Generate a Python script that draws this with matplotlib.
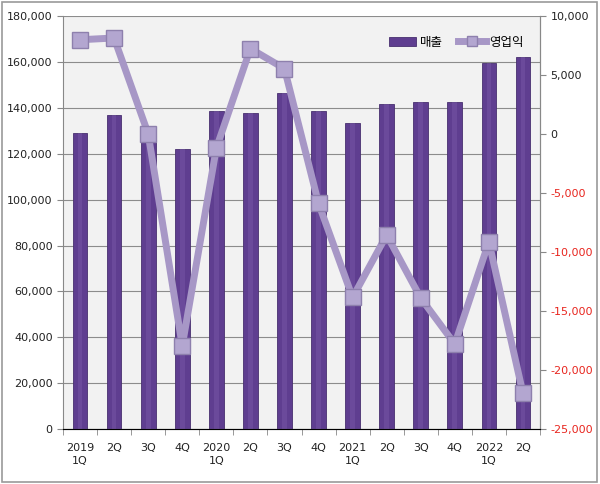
import matplotlib.pyplot as plt
from matplotlib.patches import Rectangle
from matplotlib.ticker import FuncFormatter, FixedLocator

plt.rcParams['font.family'] = ['DejaVu Sans', 'Noto Sans CJK KR']

quarters = ['2019\n1Q', '2Q', '3Q', '4Q', '2020\n1Q', '2Q', '3Q', '4Q',
            '2021\n1Q', '2Q', '3Q', '4Q', '2022\n1Q', '2Q']
sales = [129100, 136700, 129800, 121900, 138600, 137600, 146600,
         138600, 133400, 141700, 142400, 142400, 159600, 162000]
op_profit = [8000, 8150, 30, -17950, -1200, 7250, 5550,
             -5870, -13850, -8550, -13900, -17800, -9130, -21980]

fig = plt.figure(figsize=(6, 4.84), dpi=100)
fig.patches.append(Rectangle((0.004, 0.005), 0.991, 0.99, transform=fig.transFigure,
                             fill=False, edgecolor='#9a9a9a', linewidth=1.2))

ax = fig.add_axes([0.105, 0.1136, 0.795, 0.853])
ax.set_facecolor('#f2f2f2')
x = list(range(len(quarters)))

ax.bar(x, sales, width=0.43, color='#5f3e90', edgecolor='#48306f', linewidth=0.6,
       label='매출', zorder=2)
# highlight stripe to imitate the cylinder shading
ax.bar(x, sales, width=0.14, color='#7a5aa9', alpha=0.45, linewidth=0, zorder=2)

ax.set_xlim(-0.5, len(quarters) - 0.5)
ax.set_ylim(0, 180000)
ax.set_yticks(range(0, 180001, 20000))
ax.yaxis.set_major_formatter(FuncFormatter(lambda v, p: f'{int(v):,}'))
ax.grid(axis='y', color='#8c8c8c', linewidth=0.8, zorder=0)
ax.set_axisbelow(True)

ax.set_xticks(x)
ax.set_xticklabels(quarters, fontsize=8, color='#222222', linespacing=1.4)
ax.xaxis.set_minor_locator(FixedLocator([i + 0.5 for i in range(-1, len(quarters))]))
ax.tick_params(axis='x', which='major', length=0, pad=10)
ax.tick_params(axis='x', which='minor', length=4, color='#888888')
ax.tick_params(axis='y', labelsize=8, colors='#222222', length=4)
ax.tick_params(axis='y', color='#888888')
for s in ['top']:
    ax.spines[s].set_visible(False)
for s in ['left', 'bottom', 'right']:
    ax.spines[s].set_color('#888888')

ax2 = ax.twinx()
ax2.plot(x, op_profit, color='#a797c6', linewidth=5, marker='s', markersize=12,
         markerfacecolor='#b3a6d0', markeredgecolor='#8e80ad', markeredgewidth=1,
         label='영업익', zorder=3)
ax2.set_ylim(-25000, 10000)
ax2.set_yticks(range(-25000, 10001, 5000))
ax2.yaxis.set_major_formatter(FuncFormatter(lambda v, p: f'{int(v):,}'))
ax2.tick_params(axis='y', labelsize=8, length=4, color='#888888')
for lab, v in zip(ax2.get_yticklabels(), range(-25000, 10001, 5000)):
    lab.set_color('#e8261f' if v < 0 else '#222222')
ax2.spines['top'].set_visible(False)
ax2.spines['right'].set_color('#888888')
ax2.spines['left'].set_visible(False)

h1, l1 = ax.get_legend_handles_labels()
h2, l2 = ax2.get_legend_handles_labels()
ax2.legend(h1[:1] + h2, l1[:1] + l2, loc='upper right', bbox_to_anchor=(0.99, 0.98),
           ncol=2, frameon=False, fontsize=9, handlelength=2.2, columnspacing=1.2,
           handletextpad=0.3, markerscale=0.6)

fig.savefig('out.png', dpi=100)
